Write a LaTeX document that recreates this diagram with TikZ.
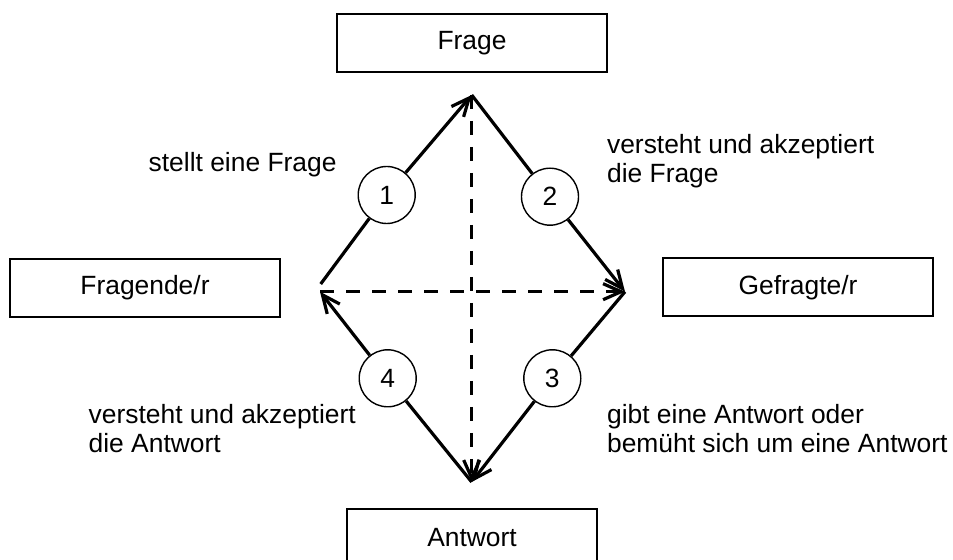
\documentclass[tikz,border=0pt]{standalone}
\usepackage{fontspec}
\setmainfont{Liberation Sans}
\usetikzlibrary{arrows.meta}
\begin{document}
\begin{tikzpicture}[x=0.5pt,y=-0.5pt,
  txt/.style={font=\fontsize{13.2}{15}\selectfont},
  box/.style={txt,draw,line width=1pt,minimum width=135pt,minimum height=29pt,inner sep=0pt},
  num/.style={txt,circle,draw,line width=0.7pt,fill=white,minimum size=28.5pt,inner sep=0pt},
  lbl/.style={txt,anchor=base west,inner sep=0pt},
  flow/.style={line width=1.6pt,-{Straight Barb[length=9pt,width=8pt]}},
  dashline/.style={flow,dash pattern=on 7pt off 6pt}]
\useasboundingbox (0,0) rectangle (953,560);
% boxes
\node[box] (frage) at (472,43) {Frage};
\node[box] (fragender) at (145,288) {Fragende/r};
\node[box] (gefragter) at (798,287.5) {Gefragte/r};
\node[box,minimum width=125pt] (antwort) at (472,538) {Antwort};
% diamond corners
\coordinate (T) at (471.7,95);
\coordinate (L) at (320,291.7);
\coordinate (Ls) at (320.7,284);
\coordinate (R) at (625,291.7);
\coordinate (B) at (471.7,482);
% numbered circles
\node[num] (c1) at (386.7,195) {1};
\node[num] (c2) at (550,196.7) {2};
\node[num] (c3) at (552.3,378.3) {3};
\node[num] (c4) at (387.7,378.3) {4};
% dashed lines
\draw[dashline] (T) -- (B);
\draw[dashline] (L) -- (R);
% solid arrows
\draw[line width=1.6pt] (Ls) -- (c1);
\draw[flow] (c1) -- (T);
\draw[line width=1.6pt] (T) -- (c2);
\draw[flow] (c2) -- (R);
\draw[line width=1.6pt] (R) -- (c3);
\draw[flow] (c3) -- (B);
\draw[line width=1.6pt] (B) -- (c4);
\draw[flow] (c4) -- (L);
% labels
\node[lbl] (l1) at (148.3,171.7) {stellt eine Frage};
\node[lbl] (l2a) at (606.7,153.3) {versteht und akzeptiert};
\node[lbl] (l2b) at (606.7,182.7) {die Frage};
\node[lbl] (l3a) at (606.7,423.3) {gibt eine Antwort oder};
\node[lbl] (l3b) at (606.7,452.7) {bemüht sich um eine Antwort};
\node[lbl] (l4a) at (88.3,423.3) {versteht und akzeptiert};
\node[lbl] (l4b) at (88.3,452.7) {die Antwort};
\end{tikzpicture}
\end{document}
